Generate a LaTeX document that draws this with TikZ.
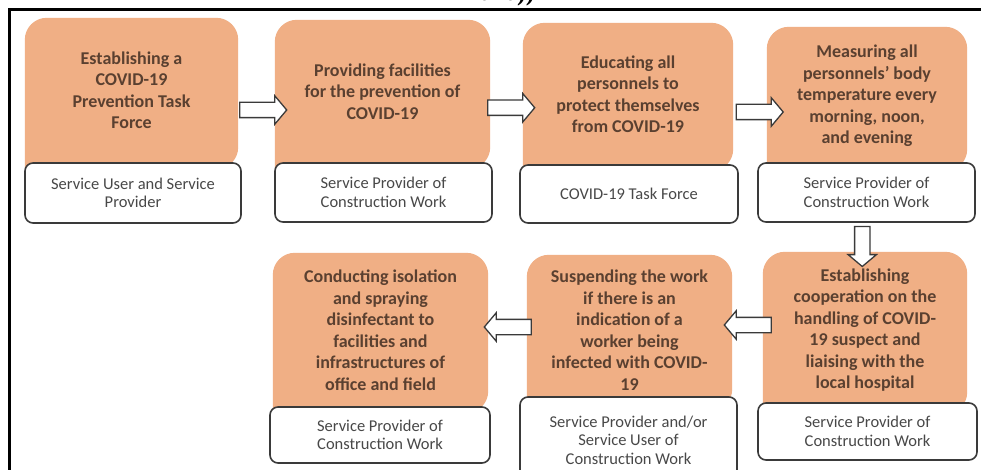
\documentclass[tikz,border=0pt]{standalone}
\usepackage{fontspec}
\setmainfont{Carlito}
\newfontfamily\capfont{Liberation Serif}
\usetikzlibrary{shapes.arrows,backgrounds,calc}
\definecolor{orfill}{HTML}{F0AF85}
\definecolor{ortext}{HTML}{5A4030}
\definecolor{boxline}{HTML}{3A3A3A}
\definecolor{wtext}{HTML}{484848}
\begin{document}
\begin{tikzpicture}[x=1pt,y=-1pt,
  task/.style={text=ortext, align=center, inner sep=0pt,
    font=\bfseries\fontsize{18}{21.5}\selectfont},
  role/.style={draw=boxline, line width=1.6pt, fill=white, rounded corners=8pt,
    align=center, text=wtext, inner sep=0pt, font=\fontsize{16.5}{18.5}\selectfont},
  blkarrow/.style={single arrow, draw=boxline, fill=white, line width=1.3pt,
    minimum height=47pt, inner sep=7pt,
    single arrow head extend=6.5pt, single arrow tip angle=100},
  frame/.style={line width=3pt, draw=black}
]
\useasboundingbox (0,0) rectangle (981,470);
\begin{scope}[on background layer]
\fill[white] (0,0) rectangle (981,470);
\end{scope}
% caption remnant
\node[anchor=base west, inner sep=0pt, font=\capfont\bfseries\fontsize{26}{26}\selectfont] (cap) at (465,1) {2020))};
\draw[frame] (9.5,472) -- (9.5,9.5) -- (982,9.5);

% orange task nodes
\node[task, minimum width=213pt, minimum height=145pt] (o1) at (131.5,90.5)
  {Establishing a\\COVID-19\\Prevention Task\\Force};
\node[task, minimum width=215pt, minimum height=143pt] (o2) at (382.5,91.5)
  {Providing facilities\\for the prevention of\\COVID-19};
\node[task, minimum width=210pt, minimum height=142pt] (o3) at (628,94)
  {Educating all\\personnels to\\protect themselves\\from COVID-19};
\node[task, minimum width=200pt, minimum height=138pt] (o4) at (867,96)
  {Measuring all\\personnels' body\\temperature every\\morning, noon,\\and evening};
\node[task, minimum width=215pt, minimum height=154pt] (o5) at (380.5,330)
  {Conducting isolation\\and spraying\\disinfectant to\\facilities and\\infrastructures of\\office and field};
\node[task, minimum width=205pt, minimum height=150pt] (o6) at (629.5,330)
  {Suspending the work\\if there is an\\indication of a\\worker being\\infected with COVID-\\19};
\node[task, minimum width=204pt, minimum height=156pt] (o7) at (865,330)
  {Establishing\\cooperation on the\\handling of COVID-\\19 suspect and\\liaising with the\\local hospital};

\begin{scope}[on background layer]
\foreach \n in {o1,o2,o3,o4,o5,o6,o7}
  \fill[orfill] ($(\n.south west)+(0,6)$) [rounded corners=22pt] -- (\n.north west)
     -- (\n.north east) -- ($(\n.south east)+(0,6)$) [sharp corners] -- cycle;
\end{scope}
% white role nodes
\node[role, minimum width=216pt, minimum height=60pt] (w1) at (133,193)
  {Service User and Service\\Provider};
\node[role, minimum width=217pt, minimum height=59pt] (w2) at (383.5,192.5)
  {Service Provider of\\Construction Work};
\node[role, minimum width=218pt, minimum height=58pt] (w3) at (629,194)
  {COVID-19 Task Force};
\node[role, minimum width=217pt, minimum height=59pt] (w4) at (866.5,192.5)
  {Service Provider of\\Construction Work};
\node[role, minimum width=220pt, minimum height=56pt] (w5) at (380,435)
  {Service Provider of\\Construction Work};
\node[role, minimum width=217pt, minimum height=86pt] (w6) at (628.5,440)
  {Service Provider and/or\\Service User of\\Construction Work};
\node[role, minimum width=219pt, minimum height=57pt] (w7) at (867.5,431.5)
  {Service Provider of\\Construction Work};

% block arrows
\node[blkarrow] (a1) at ($(o1.east)!.5!(o2.west)+(3.5,19)$) {};
\node[blkarrow] (a2) at ($(o2.east)!.5!(o3.west)+(1.5,15)$) {};
\node[blkarrow] (a3) at ($(o3.east)!.5!(o4.west)+(6.5,17)$) {};
\node[blkarrow, shape border rotate=270, minimum height=40pt] (a4) at ($(w4.south)!.5!(o7.north)+(-3.5,6)$) {};
\node[blkarrow, shape border rotate=180] (a5) at ($(o6.east)!.5!(o7.west)+(3.5,-5)$) {};
\node[blkarrow, shape border rotate=180] (a6) at ($(o5.east)!.5!(o6.west)+(3.5,-3)$) {};
\end{tikzpicture}
\end{document}
